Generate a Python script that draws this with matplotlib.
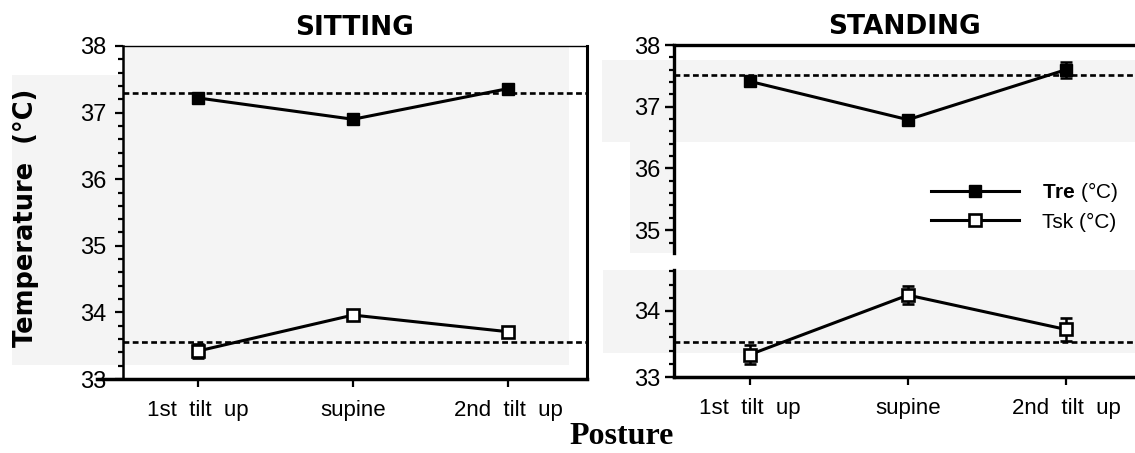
import matplotlib
matplotlib.use("Agg")
import matplotlib.pyplot as plt
from matplotlib.patches import Rectangle
from matplotlib.lines import Line2D
from matplotlib.ticker import MultipleLocator

# ---------------- data ----------------
postures = ["1st  tilt  up", "supine", "2nd  tilt  up"]

sit_tre = [37.22, 36.90, 37.36]
sit_tre_err = [0.04, 0.03, 0.04]
sit_tsk = [33.42, 33.96, 33.71]
sit_tsk_err = [0.11, 0.04, 0.06]
sit_tre_ref = 37.30
sit_tsk_ref = 33.56

stand_tre = [37.41, 36.79, 37.60]
stand_tre_err = [0.06, 0.04, 0.13]
stand_tsk = [33.34, 34.24, 33.72]
stand_tsk_err = [0.15, 0.14, 0.17]
stand_tre_ref = 37.51
stand_tsk_ref = 33.53

titles = ["SITTING", "STANDING"]
ylabel = "Temperature  (°C)"
xlabel = "Posture"
legend_labels = [r"$\mathbf{Tre}$ (°C)", "Tsk (°C)"]

# ---------------- style ----------------
plt.rcParams["mathtext.fontset"] = "custom"
plt.rcParams["mathtext.bf"] = "Liberation Sans:bold"
plt.rcParams["mathtext.rm"] = "Liberation Sans"
plt.rcParams["font.family"] = ["Liberation Sans", "DejaVu Sans"]

W, H = 1135, 453
fig = plt.figure(figsize=(W / 100, H / 100), dpi=100)
GRAY = "#f4f4f4"


def px_rect(x0, y0, x1, y1):
    """figure rectangle from pixel coords (y measured from top)"""
    return Rectangle((x0 / W, 1 - y1 / H), (x1 - x0) / W, (y1 - y0) / H,
                     transform=fig.transFigure, facecolor=GRAY,
                     edgecolor="none", zorder=-10)


for r in [(123, 46, 569, 365), (12, 75, 123, 365),
          (602, 60, 1135, 142), (630, 142, 674, 253), (603, 270, 1135, 353)]:
    fig.patches.append(px_rect(*r))


def px_axes(x0, y0, x1, y1):
    return fig.add_axes([x0 / W, 1 - y1 / H, (x1 - x0) / W, (y1 - y0) / H])


ax_sit = px_axes(123, 46, 587, 379)
ax_su = px_axes(674, 45, 1135, 253)
ax_sl = px_axes(674, 270, 1135, 377)

x = list(range(len(postures)))
LW = 2.2
MS = 8.5
DASH = (0, (2.2, 1.3))
DLW = 1.9


def draw(ax, tre, tre_err, tsk, tsk_err, tre_ref, tsk_ref, which=("tre", "tsk")):
    ax.set_facecolor("none")
    if "tre" in which:
        ax.axhline(tre_ref, color="black", lw=DLW, ls=DASH, zorder=2)
        ax.errorbar(x, tre, yerr=tre_err, color="black", lw=LW, marker="s",
                    ms=MS, mfc="black", mec="black", capsize=4.5, capthick=1.8,
                    elinewidth=1.8, zorder=3)
    if "tsk" in which:
        ax.axhline(tsk_ref, color="black", lw=DLW, ls=DASH, zorder=2)
        ax.errorbar(x, tsk, yerr=tsk_err, color="black", lw=LW, marker="s",
                    ms=MS, mfc="white", mec="black", mew=1.9, capsize=4.5,
                    capthick=1.8, elinewidth=1.8, zorder=3)


# ---- sitting ----
draw(ax_sit, sit_tre, sit_tre_err, sit_tsk, sit_tsk_err, sit_tre_ref, sit_tsk_ref)
ax_sit.set_xlim(-0.484, 2.51)
ax_sit.set_ylim(33, 38)
ax_sit.set_yticks([33, 34, 35, 36, 37, 38])
ax_sit.yaxis.set_minor_locator(MultipleLocator(0.2))
ax_sit.set_xticks(x)
ax_sit.set_xticklabels(postures, fontsize=16)
ax_sit.spines["left"].set_linewidth(1.8)
ax_sit.spines["top"].set_linewidth(1.0)
ax_sit.spines["right"].set_linewidth(2.2)
ax_sit.spines["bottom"].set_linewidth(2.5)
ax_sit.spines["bottom"].set_bounds(-0.65, 2.51)
ax_sit.tick_params(axis="y", which="major", length=6, width=1.6, pad=6, labelsize=17)
ax_sit.tick_params(axis="y", which="minor", length=3.5, width=1.6)
ax_sit.tick_params(axis="x", length=6, width=1.6, pad=9)
ax_sit.set_title(titles[0], fontsize=19, fontweight="bold",
                 family="DejaVu Sans", pad=8)

# ---- standing (broken axis) ----
draw(ax_su, stand_tre, stand_tre_err, stand_tsk, stand_tsk_err,
     stand_tre_ref, stand_tsk_ref, which=("tre",))
draw(ax_sl, stand_tre, stand_tre_err, stand_tsk, stand_tsk_err,
     stand_tre_ref, stand_tsk_ref, which=("tsk",))
for ax in (ax_su, ax_sl):
    ax.set_xlim(-0.481, 2.437)
    ax.yaxis.set_minor_locator(MultipleLocator(0.2))
    ax.spines["right"].set_visible(False)
    ax.spines["left"].set_linewidth(2.4)
    ax.tick_params(axis="y", which="major", length=6.5, width=1.7, pad=3, labelsize=17)
    ax.tick_params(axis="y", which="minor", length=3.5, width=1.6)

ax_su.set_ylim(34.63, 38)
ax_su.set_yticks([35, 36, 37, 38])
ax_su.spines["bottom"].set_visible(False)
ax_su.spines["top"].set_linewidth(2.4)
ax_su.set_xticks([])
ax_su.set_title(titles[1], fontsize=19, fontweight="bold",
                family="DejaVu Sans", pad=8)

ax_sl.set_ylim(33, 34.62)
ax_sl.set_yticks([33, 34])
ax_sl.spines["top"].set_visible(False)
ax_sl.spines["bottom"].set_linewidth(2.5)
ax_sl.set_xticks(x)
ax_sl.set_xticklabels(postures, fontsize=16)
ax_sl.tick_params(axis="x", length=6, width=1.6, pad=9)

# legend
handles = [
    Line2D([], [], color="black", lw=LW, marker="s", ms=MS, mfc="black", mec="black"),
    Line2D([], [], color="black", lw=LW, marker="s", ms=MS, mfc="white", mec="black", mew=1.9),
]
ax_su.legend(handles, legend_labels, loc="center left",
             bbox_to_anchor=(931 / W, 1 - 206 / H), bbox_transform=fig.transFigure,
             frameon=False, fontsize=15, handlelength=4.2, handletextpad=1.15,
             labelspacing=0.4, borderpad=0, borderaxespad=0)

# axis labels
fig.text(26 / W, 1 - 218 / H, ylabel, rotation=90, ha="center", va="center",
         fontsize=18.5, fontweight="bold", family="DejaVu Sans")
fig.text(622 / W, 1 - 437 / H, xlabel, ha="center", va="center",
         fontsize=23, fontweight="bold", family="Liberation Serif")

fig.savefig("out.png", dpi=100)
